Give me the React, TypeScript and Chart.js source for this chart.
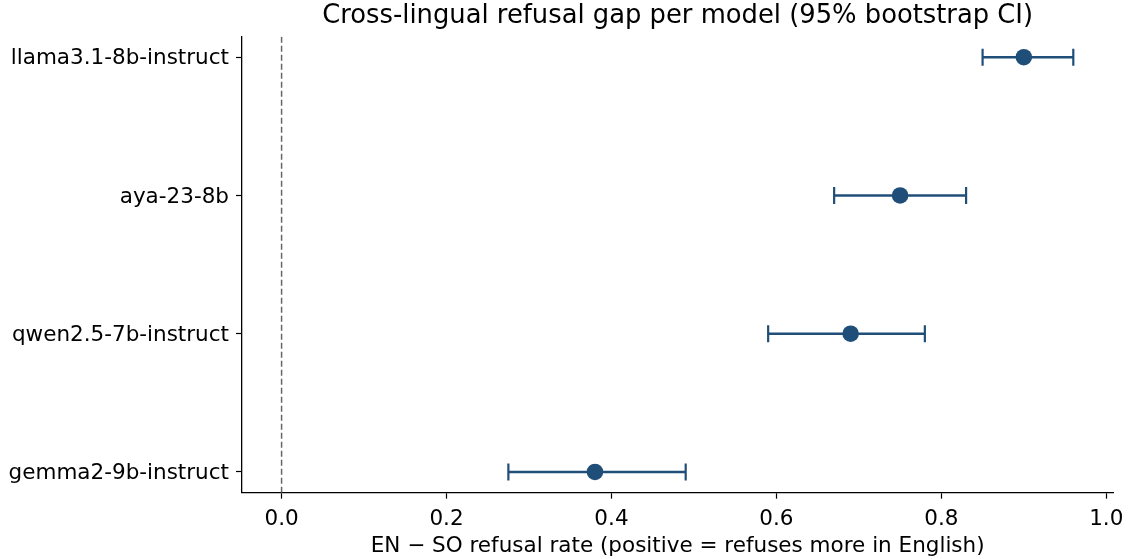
import React, { useEffect, useRef } from "react";
import { Chart, registerables } from "chart.js";

Chart.register(...registerables);

const models = ["gemma2-9b-instruct", "qwen2.5-7b-instruct", "aya-23-8b", "llama3.1-8b-instruct"];
const gap = [0.38, 0.69, 0.75, 0.9];
const ciLow = [0.275, 0.59, 0.67, 0.85];
const ciHigh = [0.49, 0.78, 0.83, 0.96];
const xTicks = [0.0, 0.2, 0.4, 0.6, 0.8, 1.0];
const refLine = 0;
const titleText = "Cross-lingual refusal gap per model (95% bootstrap CI)";

const COLOR = "#1f4e79";
const FONT = "'DejaVu Sans', sans-serif";

const titlePlugin = {
  id: "centeredTitle",
  afterDraw(chart: any) {
    const { ctx, chartArea } = chart;
    ctx.save();
    ctx.fillStyle = "#000";
    ctx.font = `25.8px ${FONT}`;
    ctx.textAlign = "center";
    ctx.textBaseline = "middle";
    ctx.fillText(titleText, (chartArea.left + chartArea.right) / 2, 16);
    ctx.restore();
  },
};

export default function App() {
  const ref = useRef<HTMLCanvasElement | null>(null);
  useEffect(() => {
    if (!ref.current) return;
    const yMin = -0.15;
    const yMax = models.length - 1 + 0.15;
    const errDatasets = models.map((m, i) => ({
      type: "line" as const,
      label: "ci-" + m,
      data: [
        { x: ciLow[i], y: i },
        { x: ciHigh[i], y: i },
      ],
      borderColor: COLOR,
      borderWidth: 2.5,
      pointStyle: "line" as const,
      rotation: 90,
      pointRadius: 8.5,
      pointBorderWidth: 2.2,
      pointBorderColor: COLOR,
      pointBackgroundColor: COLOR,
      fill: false,
      order: 2,
    }));
    const chart = new Chart(ref.current, {
      type: "scatter",
      data: {
        datasets: [
          {
            type: "line" as const,
            label: "zero",
            data: [
              { x: refLine, y: yMin },
              { x: refLine, y: yMax },
            ],
            borderColor: "#666666",
            borderWidth: 1.5,
            borderDash: [6, 3],
            pointRadius: 0,
            order: 3,
          },
          ...errDatasets,
          {
            type: "scatter" as const,
            label: "gap",
            data: gap.map((g, i) => ({ x: g, y: i })),
            backgroundColor: COLOR,
            borderColor: COLOR,
            pointRadius: 8.3,
            borderWidth: 0,
            order: 1,
          },
        ] as any,
      },
      plugins: [titlePlugin],
      options: {
        animation: false,
        responsive: false,
        maintainAspectRatio: false,
        layout: { padding: { left: 0, right: 15.7, top: 36.5, bottom: 0 } },
        plugins: {
          legend: { display: false },
          tooltip: { enabled: false },
          title: { display: false },
        },
        scales: {
          x: {
            type: "linear",
            min: -0.048,
            max: 1.0085,
            afterBuildTicks: (s: any) => {
              s.ticks = xTicks.map((v) => ({ value: v }));
            },
            afterFit: (s: any) => {
              s.height = 559 - 492.7;
              s.paddingLeft = 0;
              s.paddingRight = 0;
            },
            grid: {
              display: true,
              drawOnChartArea: false,
              drawTicks: true,
              tickLength: 6,
              tickColor: "#000",
              tickWidth: 1.2,
            },
            border: { display: true, color: "#000", width: 1.3 },
            ticks: {
              color: "#000",
              font: { family: FONT, size: 21.5 },
              padding: 8,
              callback: (v: any) => Number(v).toFixed(1),
            },
            title: {
              display: true,
              text: "EN − SO refusal rate (positive = refuses more in English)",
              color: "#000",
              font: { family: FONT, size: 21.5 },
              padding: { top: 0, bottom: 0 },
            },
          },
          y: {
            type: "linear",
            min: yMin,
            max: yMax,
            afterBuildTicks: (s: any) => {
              s.ticks = models.map((_, i) => ({ value: i }));
            },
            afterFit: (s: any) => {
              s.width = 242;
              s.paddingTop = 0;
              s.paddingBottom = 0;
            },
            grid: {
              display: true,
              drawOnChartArea: false,
              drawTicks: true,
              tickLength: 6,
              tickColor: "#000",
              tickWidth: 1.2,
            },
            border: { display: true, color: "#000", width: 1.3 },
            ticks: {
              color: "#000",
              font: { family: FONT, size: 21.5 },
              padding: 7,
              labelOffset: 1.5,
              callback: (v: any) => models[Math.round(Number(v))] ?? "",
            },
          },
        },
      },
    });
    return () => chart.destroy();
  }, []);
  return (
    <div style={{ position: "fixed", left: 0, top: 0, width: 1129, height: 559, background: "#fff" }}>
      <canvas ref={ref} width={1129} height={559} style={{ width: 1129, height: 559 }} />
    </div>
  );
}
